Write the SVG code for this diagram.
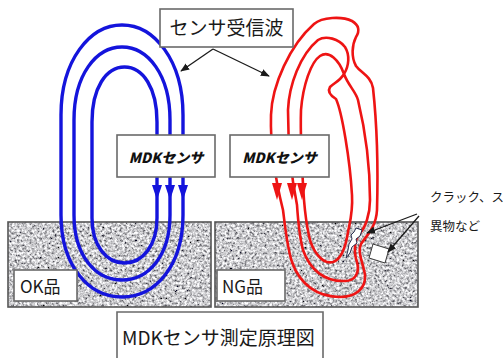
<svg xmlns="http://www.w3.org/2000/svg" width="503" height="358" viewBox="0 0 503 358">
  <style>
    .box { fill: #ffffff; stroke: #6a6a6a; stroke-width: 1.6; }
    .ground { stroke: #555555; stroke-width: 1.6; fill: none; }
    .blue { fill: none; stroke: #1414dc; stroke-width: 3.4; }
    .red { fill: none; stroke: #ee1414; stroke-width: 2.6; stroke-linejoin: round; }
    .bluehead { fill: #1414dc; }
    .redhead { fill: #ee1414; }
    .jp { font-family: "Noto Sans CJK JP", "Noto Sans", sans-serif; fill: #1a1a1a; }
    .sensor { font-family: "Noto Sans CJK JP", "Noto Sans", sans-serif; font-weight: 900; font-style: italic; font-size: 14px; fill: #111111; }
    .lead { stroke: #1a1a1a; stroke-width: 1.3; fill: none; }
  </style>
  <defs>
    <filter id="granite" x="0" y="0" width="100%" height="100%">
      <feTurbulence type="fractalNoise" baseFrequency="0.4" numOctaves="3" seed="7" result="noise"/>
      <feColorMatrix in="noise" type="matrix" values="1.8 0 0 0 -0.3  1.8 0 0 0 -0.3  1.8 0 0 0 -0.28  0 0 0 0 1"/>
    </filter>
    <marker id="tip" viewBox="0 0 10 10" refX="9" refY="5" markerWidth="9" markerHeight="9" markerUnits="userSpaceOnUse" orient="auto">
      <path d="M0,1 L10,5 L0,9 Z" fill="#1a1a1a"/>
    </marker>
  </defs>

  <rect width="503" height="358" fill="#ffffff"/>

  <!-- test pieces -->
  <g id="ground-ok">
    <rect x="8" y="222" width="203" height="85" filter="url(#granite)"/>
    <rect class="ground" x="8" y="222" width="203" height="85"/>
  </g>
  <g id="ground-ng">
    <rect x="215" y="222" width="203" height="85" filter="url(#granite)"/>
    <rect class="ground" x="215" y="222" width="203" height="85"/>
  </g>

  <!-- received sensor waves -->
  <g id="connectors">
    <!-- OK piece: three clean loops -->
    <path class="blue" d="M61,115 C61,60 90,25 122,25 C154,25 183,60 183,115 L183,215 C183,265 156,297 122,297 C88,297 61,265 61,215 Z"/>
    <path class="blue" d="M74,120 C74,75 96,47 122,47 C148,47 170,75 170,120 L170,215 C170,255 149,280 122,280 C95,280 74,255 74,215 Z"/>
    <path class="blue" d="M92,122 C92,88 106,67 124.5,67 C143,67 157,88 157,122 L157,218 C157,245 143,263 124.5,263 C106,263 92,245 92,218 Z"/>
    <polygon class="bluehead" points="152,185 162,185 157,200"/>
    <polygon class="bluehead" points="165,185 175,185 170,200"/>
    <polygon class="bluehead" points="178,185 188,185 183,200"/>

    <!-- NG piece: loops distorted by the defect -->
    <path class="red" d="M283,210 C278,190 270,150 271,115 C272,85 290,45 314,24 C322,17 342,16 352,21 C359,25 360,31 356,37 C352,45 351,57 356,66 C361,73 371,76 373,88 C377,125 378,175 377,210 C376,228 366,236 361,244 C357,252 363,262 365,275 C366,289 355,297 340,297 C318,297 300,285 292,262 C287,247 285,225 283,210 Z"/>
    <path class="red" d="M297,205 C293,185 288,150 288,110 C289,85 300,55 318,40 C326,35 339,39 345,47 C350,55 349,66 344,74 C340,81 334,83 330,87 C327,92 331,96 336,99 C342,112 350,160 352,195 C353,212 350,222 348,232 C346,245 342,259 333,262 C322,265 312,250 309,236 C306,222 305,212 304,200 C302,170 300,140 301,110 C303,85 311,62 320,56 C329,50 339,60 344,74 C348,85 356,92 358,100 C364,125 370,160 370,200 C370,215 365,228 360,233 C355,239 353,250 357,262 C360,273 355,281 345,281 C325,282 310,270 303,250 C299,235 298,220 297,205 Z"/>
    <polygon class="redhead" points="272,183 282,183 277,200"/>
    <polygon class="redhead" points="287,183 297,183 292,200"/>
    <polygon class="redhead" points="297,183 307,183 302,200"/>

    <!-- title leaders -->
    <line class="lead" x1="213" y1="49" x2="181" y2="71" marker-end="url(#tip)"/>
    <line class="lead" x1="213" y1="49" x2="269" y2="76" marker-end="url(#tip)"/>
  </g>

  <!-- defects inside the NG piece -->
  <g id="defects">
    <polygon points="356,228 362,230 360,236 356,239 357,243 352,247 350,253 346,258 348,250 349,244 352,239 351,235 354,232" fill="#ffffff" stroke="#2a3050" stroke-width="1"/>
    <polygon points="373,244 389,249 385,263 369,258" fill="#ffffff" stroke="#3a3a3a" stroke-width="1"/>
    <line class="lead" x1="417" y1="214" x2="367" y2="233" marker-end="url(#tip)"/>
    <line class="lead" x1="419" y1="216" x2="388" y2="252" marker-end="url(#tip)"/>
  </g>

  <g id="title">
    <rect class="box" x="160" y="9" width="133" height="38"/>
    <text class="jp" x="226.5" y="35" font-size="19" text-anchor="middle">センサ受信波</text>
  </g>

  <g id="sensor-ok">
    <rect class="box" x="117" y="135" width="98" height="42"/>
    <text class="sensor" x="166" y="163" text-anchor="middle">MDKセンサ</text>
  </g>
  <g id="sensor-ng">
    <rect class="box" x="230" y="135" width="99" height="42"/>
    <text class="sensor" x="279.5" y="163" text-anchor="middle">MDKセンサ</text>
  </g>

  <g id="label-ok">
    <rect class="box" x="14" y="270" width="63" height="31"/>
    <text class="jp" x="20" y="293" font-size="17">OK品</text>
  </g>
  <g id="label-ng">
    <rect class="box" x="217" y="270" width="68" height="31"/>
    <text class="jp" x="222" y="293" font-size="17">NG品</text>
  </g>

  <g id="defect-note">
    <text class="jp" x="430" y="202" font-size="12.5">クラック、ス</text>
    <text class="jp" x="430" y="231" font-size="12.5">異物など</text>
  </g>

  <g id="caption">
    <path class="box" d="M117,360 L117,312 L323,312 L323,360"/>
    <text class="jp" x="122" y="345" font-size="19">MDKセンサ測定原理図</text>
  </g>
</svg>
